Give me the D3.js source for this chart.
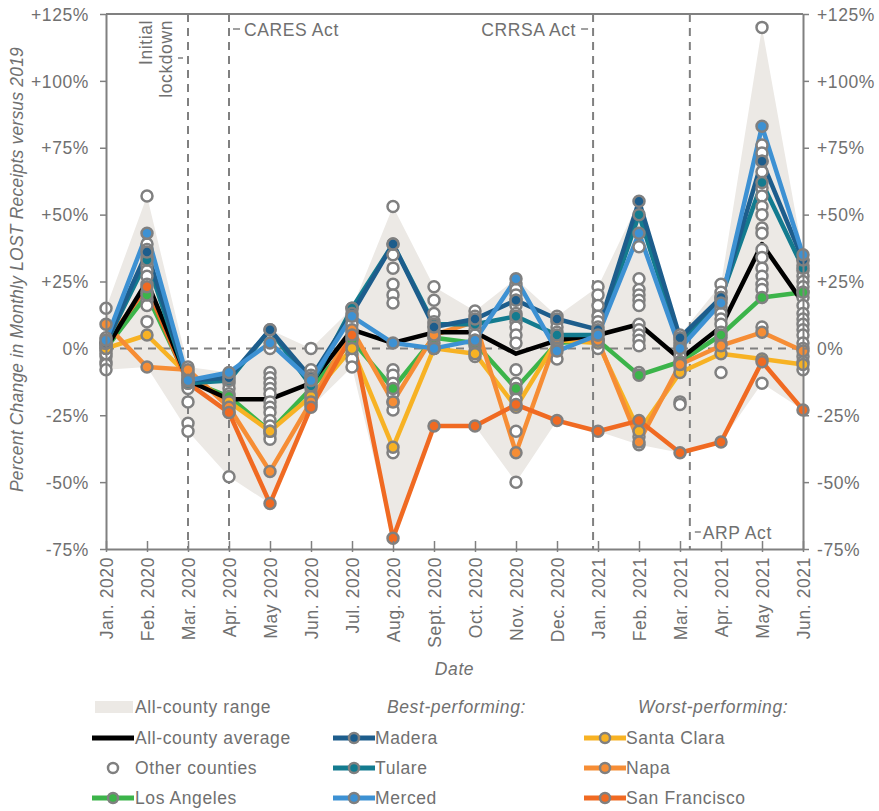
<!DOCTYPE html>
<html>
<head>
<meta charset="utf-8">
<script src="https://cdn.jsdelivr.net/npm/d3@7"></script>
<style>
  body { margin: 0; background: #fff; }
  text { font-family: "Liberation Sans", Arial, sans-serif; fill: #707070; letter-spacing: 0.6px; }
</style>
</head>
<body>
<svg id="chart" width="879" height="811"></svg>
<script>
// --- data (percent change vs 2019) ---
const months = ['Jan. 2020','Feb. 2020','Mar. 2020','Apr. 2020','May 2020','Jun. 2020','Jul. 2020','Aug. 2020',
  'Sept. 2020','Oct. 2020','Nov. 2020','Dec. 2020','Jan. 2021','Feb. 2021','Mar. 2021','Apr. 2021','May 2021','Jun. 2021'];

const average     = [0, 25, -12, -19, -19, -13, 7, 2, 6, 6, -2, 3, 5, 9, -4, 8, 39, 17];
const madera      = [2, 36, -12, -11, 7, -11, 13, 39, 8, 11, 18, 11, 7, 55, 4, 19, 70, 33];
const tulare      = [2, 33, -13, -12, 7, -14, 15, 39, 9, 9, 12, 5, 5, 50, 2, 19, 62, 30];
const merced      = [3, 43, -12, -9, 2, -12, 12, 2, 0, 3, 26, -1, 5, 43, 0, 17, 83, 35];
const losAngeles  = [0, 20, -12, -18, -31, -15, 3, -15, 4, 2, -15, 2, 3, -10, -5, 5, 19, 21];
const santaClara  = [0, 5, -10, -20, -31, -18, 0, -37, 0, -2, -22, 3, 2, -31, -9, -2, -4, -6];
const napa        = [9, -7, -8, -22, -46, -20, 7, -20, 5, 10, -39, 4, 3, -35, -6, 1, 6, -1];
const sanFrancisco= [2, 23, -13, -24, -58, -22, 5, -71, -29, -29, -21, -27, -31, -27, -39, -35, -5, -23];

const otherCounties = [
  [15, 4, 1, -1, -3, -5, -6, -8, 2, -2],
  [57, 39, 37, 34, 31, 29, 27, 24, 21, 18, 16, 10],
  [-7, -9, -10, -11, -14, -15, -20, -28, -31],
  [-10, -13, -15, -17, -19, -21, -22, -24, -48],
  [0, -9, -11, -13, -15, -17, -20, -22, -24, -27, -29, -32, -34],
  [0, -8, -10, -12, -14, -17, -19, -21],
  [15, 11, 9, 6, 4, 1, -2, -4, -7],
  [53, 35, 30, 24, 20, 17, -8, -10, -13, -17, -20, -23, -39],
  [23, 18, 13, 10, 8, 6, 4, 2, 0],
  [14, 12, 9, 7, 5, 3, 1, -1, -3],
  [24, 22, 20, 18, 16, 13, 10, 8, 5, 2, -8, -13, -16, -19, -31, -50],
  [12, 10, 8, 6, 4, 2, 0, -4],
  [23, 20, 16, 12, 10, 8, 6, 3, 0],
  [38, 26, 22, 20, 18, 16, 9, 7, 5, 3, 1, -9, -33, -36],
  [5, 3, 1, -1, -3, -5, -7, -20, -21],
  [24, 21, 18, 15, 13, 11, 9, 6, 4, 2, -9],
  [120, 76, 73, 70, 66, 60, 57, 53, 50, 45, 43, 37, 34, 30, 27, 24, 22, 8, -13],
  [33, 31, 29, 27, 25, 23, 21, 19, 16, 13, 11, 9, 7, 5, 2, 0, -3, -5, -8]
];

const yTicks = [-75, -50, -25, 0, 25, 50, 75, 100, 125];

// event lines (fractional month index)
const eventNames = ['Initial lockdown', 'CARES Act', 'CRRSA Act', 'ARP Act'];
const eventAt    = [2, 3, 11.88, 14.24];

const series = [
  { name: 'Los Angeles',   values: losAngeles,   color: '#3cb44a' },
  { name: 'Santa Clara',   values: santaClara,   color: '#f7b224' },
  { name: 'Napa',          values: napa,         color: '#f68d35' },
  { name: 'San Francisco', values: sanFrancisco, color: '#f06a22' },
  { name: 'Tulare',        values: tulare,       color: '#137b8f' },
  { name: 'Madera',        values: madera,       color: '#1d5d8c' },
  { name: 'Merced',        values: merced,       color: '#3d91d3' }
];
const byName = Object.fromEntries(series.map(s => [s.name, s]));

// --- chart ---
const svg = d3.select('#chart');
const gray = '#808080';
const fs = '17.5px';
const x = d3.scaleLinear().domain([0, months.length - 1]).range([106, 803]);
const y = d3.scaleLinear().domain([-75, 125]).range([549, 14]);

// all-county range
const range = months.map((m, i) => d3.extent(otherCounties[i].concat(series.map(s => s.values[i]), [average[i]])));
svg.append('path')
  .datum(range)
  .attr('fill', '#ece9e5')
  .attr('d', d3.area().x((d, i) => x(i)).y0(d => y(d[0])).y1(d => y(d[1])));

// zero line + event lines
svg.append('line')
  .attr('x1', x(0)).attr('x2', x(17)).attr('y1', y(0)).attr('y2', y(0))
  .attr('stroke', gray).attr('stroke-width', 2).attr('stroke-dasharray', '8,6');
svg.selectAll('.evt').data(eventAt).join('line')
  .attr('x1', d => x(d)).attr('x2', d => x(d)).attr('y1', y(125)).attr('y2', y(-75))
  .attr('stroke', gray).attr('stroke-width', 2).attr('stroke-dasharray', '8,6');

// annotations
const ann = svg.append('g').style('font-size', fs);
ann.append('text').attr('transform', `translate(${x(eventAt[0]) - 36},20) rotate(-90)`)
  .attr('text-anchor', 'end').text('Initial');
ann.append('text').attr('transform', `translate(${x(eventAt[0]) - 16},20) rotate(-90)`)
  .attr('text-anchor', 'end').text('lockdown');
ann.append('line').attr('x1', x(eventAt[0]) - 10).attr('x2', x(eventAt[0]) - 5).attr('y1', 58).attr('y2', 58)
  .attr('stroke', gray).attr('stroke-width', 1.5);

ann.append('line').attr('x1', x(eventAt[1]) + 4).attr('x2', x(eventAt[1]) + 11).attr('y1', 29).attr('y2', 29)
  .attr('stroke', gray).attr('stroke-width', 1.5);
ann.append('text').attr('x', x(eventAt[1]) + 15).attr('y', 36).text('CARES Act');

ann.append('line').attr('x1', x(eventAt[2]) - 12).attr('x2', x(eventAt[2]) - 5).attr('y1', 29).attr('y2', 29)
  .attr('stroke', gray).attr('stroke-width', 1.5);
ann.append('text').attr('x', x(eventAt[2]) - 17).attr('y', 36).attr('text-anchor', 'end').text('CRRSA Act');

ann.append('line').attr('x1', x(eventAt[3]) + 5).attr('x2', x(eventAt[3]) + 11).attr('y1', 532).attr('y2', 532)
  .attr('stroke', gray).attr('stroke-width', 1.5);
ann.append('text').attr('x', x(eventAt[3]) + 13).attr('y', 539).text('ARP Act');

// lines
const line = d3.line().x((d, i) => x(i)).y(d => y(d));
const drawOrder = ['Los Angeles', 'Santa Clara', 'Napa', 'San Francisco'];
drawOrder.forEach(n => {
  svg.append('path').datum(byName[n].values).attr('d', line)
    .attr('fill', 'none').attr('stroke', byName[n].color).attr('stroke-width', 4.5).attr('stroke-linejoin', 'round');
});
svg.append('path').datum(average).attr('d', line)
  .attr('fill', 'none').attr('stroke', '#000').attr('stroke-width', 4.5).attr('stroke-linejoin', 'round');
['Tulare', 'Madera', 'Merced'].forEach(n => {
  svg.append('path').datum(byName[n].values).attr('d', line)
    .attr('fill', 'none').attr('stroke', byName[n].color).attr('stroke-width', 4.5).attr('stroke-linejoin', 'round');
});

// other counties
const pts = otherCounties.flatMap((vals, i) => vals.map(v => ({ i, v })));
svg.append('g').selectAll('circle').data(pts).join('circle')
  .attr('cx', d => x(d.i)).attr('cy', d => y(d.v)).attr('r', 5.5)
  .attr('fill', '#fff').attr('stroke', gray).attr('stroke-width', 2.5);

// series markers
series.forEach(s => {
  svg.append('g').selectAll('circle').data(s.values).join('circle')
    .attr('cx', (d, i) => x(i)).attr('cy', d => y(d)).attr('r', 5.5)
    .attr('fill', s.color).attr('stroke', gray).attr('stroke-width', 2.5);
});

// axes
const fmt = d => (d > 0 ? '+' : '') + d + '%';
const styleAxis = g => {
  g.select('.domain').attr('stroke', gray).attr('stroke-width', 2);
  g.selectAll('.tick line').attr('stroke', gray).attr('stroke-width', 1.5);
  g.selectAll('.tick text').attr('fill', '#707070').style('font-size', fs)
    .style('font-family', '"Liberation Sans", Arial, sans-serif');
};
svg.append('g').attr('transform', `translate(${x(0)},0)`)
  .call(d3.axisLeft(y).tickValues(yTicks).tickFormat(fmt).tickSize(6).tickSizeOuter(0).tickPadding(11))
  .call(styleAxis).call(g => g.selectAll('.tick text').attr('dy', '0.35em'));
svg.append('g').attr('transform', `translate(${x(17)},0)`)
  .call(d3.axisRight(y).tickValues(yTicks).tickFormat(fmt).tickSize(6).tickSizeOuter(0).tickPadding(8))
  .call(styleAxis).call(g => g.selectAll('.tick text').attr('dy', '0.35em'));
svg.append('line').attr('x1', x(0)).attr('x2', x(17)).attr('y1', y(125)).attr('y2', y(125))
  .attr('stroke', gray).attr('stroke-width', 2);

const xAxis = svg.append('g').attr('transform', `translate(0,${y(-75)})`)
  .call(d3.axisBottom(x).tickValues(d3.range(months.length)).tickFormat(i => months[i]).tickSizeInner(-8).tickSizeOuter(0))
  .call(styleAxis);
xAxis.selectAll('.tick line').attr('y1', 3);
xAxis.selectAll('.tick text')
  .attr('text-anchor', 'end').attr('dy', null).attr('y', null)
  .attr('transform', 'translate(6,8) rotate(-90)');

// axis titles
svg.append('text')
  .attr('transform', `translate(23,${(y(125) + y(-75)) / 2 - 12}) rotate(-90)`)
  .attr('text-anchor', 'middle').style('font-size', fs).style('font-style', 'italic').style('letter-spacing', '0.2px')
  .text('Percent Change in Monthly LOST Receipts versus 2019');
svg.append('text')
  .attr('x', (x(0) + x(17)) / 2).attr('y', 675)
  .attr('text-anchor', 'middle').style('font-size', fs).style('font-style', 'italic')
  .text('Date');

// legend
const rowY = [707, 738, 768, 798];
const lg = svg.append('g').style('font-size', fs);
function lineSwatch(x0, cy, color, marker) {
  lg.append('line').attr('x1', x0).attr('x2', x0 + 42).attr('y1', cy).attr('y2', cy)
    .attr('stroke', color).attr('stroke-width', 5);
  if (marker) lg.append('circle').attr('cx', x0 + 21).attr('cy', cy).attr('r', 5)
    .attr('fill', color).attr('stroke', gray).attr('stroke-width', 2.5);
}
lg.append('rect').attr('x', 95).attr('y', rowY[0] - 6).attr('width', 38).attr('height', 12).attr('fill', '#ece9e5');
lg.append('text').attr('x', 135).attr('y', rowY[0] + 6).text('All-county range');
lineSwatch(92, rowY[1], '#000', false);
lg.append('text').attr('x', 135).attr('y', rowY[1] + 6).text('All-county average');
lg.append('circle').attr('cx', 113).attr('cy', rowY[2]).attr('r', 5)
  .attr('fill', '#fff').attr('stroke', gray).attr('stroke-width', 2.5);
lg.append('text').attr('x', 135).attr('y', rowY[2] + 6).text('Other counties');
lineSwatch(92, rowY[3], byName['Los Angeles'].color, true);
lg.append('text').attr('x', 135).attr('y', rowY[3] + 6).text('Los Angeles');

lg.append('text').attr('x', 387).attr('y', rowY[0] + 6).style('font-style', 'italic').text('Best-performing:');
['Madera', 'Tulare', 'Merced'].forEach((n, k) => {
  lineSwatch(333, rowY[k + 1], byName[n].color, true);
  lg.append('text').attr('x', 375).attr('y', rowY[k + 1] + 6).text(n);
});
lg.append('text').attr('x', 638).attr('y', rowY[0] + 6).style('font-style', 'italic').text('Worst-performing:');
['Santa Clara', 'Napa', 'San Francisco'].forEach((n, k) => {
  lineSwatch(584, rowY[k + 1], byName[n].color, true);
  lg.append('text').attr('x', 626).attr('y', rowY[k + 1] + 6).text(n);
});
</script>
</body>
</html>
